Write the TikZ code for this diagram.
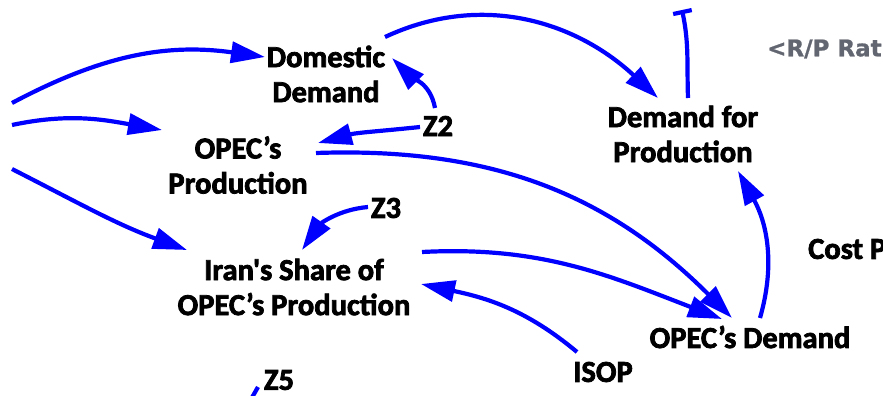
\documentclass[tikz,border=0pt]{standalone}
\usepackage{fontspec}
\setmainfont{Carlito}
\newfontfamily\varfont{Carlito Bold}[FakeBold=2.5]
\newfontfamily\grayfont{DejaVu Sans Bold}[FakeBold=1]
\usetikzlibrary{arrows.meta}
\definecolor{linkblue}{RGB}{0,0,255}
\definecolor{refgray}{RGB}{98,102,112}
\begin{document}
\begin{tikzpicture}[x=1pt,y=1pt,
  var/.style={font=\varfont\fontsize{30.5}{35}\selectfont, align=center, inner sep=0pt, text=black},
  link/.style={draw=linkblue, line width=4.2pt, -{Triangle[length=34pt,width=21pt]}},
  teelink/.style={draw=linkblue, line width=4.2pt, -{Bar[width=19pt]}}
]
\useasboundingbox (0,0) rectangle (883,-396);
\clip (0,0) rectangle (883,-396);

\node[var] (dd) at (326,-74) {Domestic\\Demand};
\node[var] (op) at (238,-165) {OPEC’s\\Production};
\node[var] (dp) at (683,-134) {Demand for\\Production};
\node[var] (is) at (294,-287) {Iran's Share of\\OPEC’s Production};
\node[var] (od) at (750,-337) {OPEC’s Demand};
\node[var] (isop) at (603,-372) {ISOP};
\node[var] (z2) at (438,-126) {Z2};
\node[var] (z3) at (386,-208) {Z3};
\node[var] (z5) at (279,-380) {Z5};
\node[var, anchor=west] (cost) at (808,-249) {Cost P};
\node[anchor=west, inner sep=0pt, text=refgray, font=\grayfont\fontsize{23}{28}\selectfont] (rp) at (767,-49) {<R/P Rat};

\coordinate (l1) at (12,-103);
\coordinate (l2) at (12,-125);
\coordinate (l3) at (12,-169);
\coordinate (tee) at (682,-10);
\coordinate (z5end) at (228,-440);

\draw[link] (l1) to[out=28,in=172] ([shift={(-61,17)}]dd.center);
\draw[link] (l2) to[out=12,in=170] ([shift={(-76,35)}]op.center);
\draw[link] (l3) to[out=-27,in=160] ([shift={(-107,37)}]is.center);
\draw[link] ([shift={(-3,18)}]z2.center) to[out=100,in=-45] ([shift={(66,16)}]dd.center);
\draw[link] ([shift={(-18,-1)}]z2.center) to[out=186,in=15] ([shift={(80,22)}]op.center);
\draw[link] ([shift={(78,12)}]op.center) to[out=2,in=135] ([shift={(-18,19)}]od.center);
\draw[link] ([shift={(128,35)}]is.center) to[out=3,in=159] ([shift={(-28,18)}]od.center);
\draw[link] ([shift={(59,37)}]dd.center) to[out=25,in=137] ([shift={(-25,36)}]dp.center);
\draw[link] ([shift={(10,19)}]od.center) to[out=74,in=-61] ([shift={(55,-37)}]dp.center);
\draw[teelink] ([shift={(5,36)}]dp.center) to[out=92,in=-78] (tee);
\draw[link] ([shift={(-26,20)}]isop.center) to[out=140,in=-12] ([shift={(127,3)}]is.center);
\draw[link] ([shift={(-18,1)}]z3.center) to[out=185,in=55] ([shift={(8,37)}]is.center);
\draw[link] ([shift={(-21,-7)}]z5.center) -- (z5end);
\end{tikzpicture}
\end{document}
